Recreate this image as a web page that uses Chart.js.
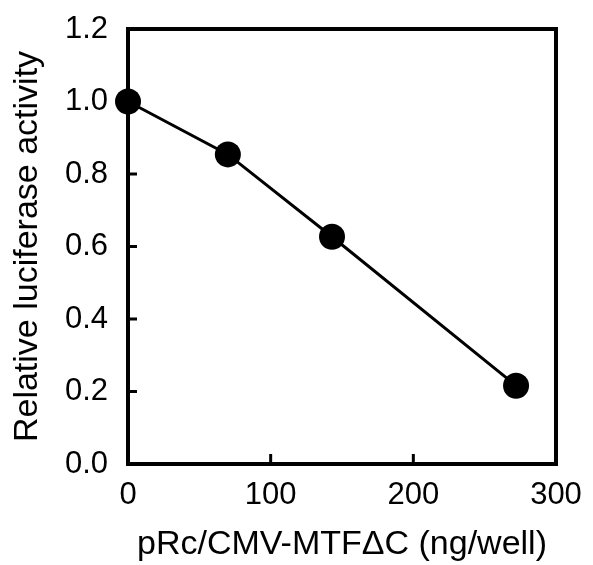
<!DOCTYPE html>
<html>
<head>
<meta charset="utf-8">
<script src="https://cdn.jsdelivr.net/npm/chart.js@4"></script>
<style>
  html, body { margin: 0; padding: 0; background: #fff; }
  #wrap { width: 593px; height: 565px; }
</style>
</head>
<body>
<div id="wrap"><canvas id="chart"></canvas></div>
<script>
// dose of pRc/CMV-MTFdC (ng/well) and relative luciferase activity
const doses = [0, 70, 143, 272];
const activity = [1.0, 0.854, 0.627, 0.216];

const xTicks = [0, 100, 200, 300];
const yTicks = [0, 0.2, 0.4, 0.6, 0.8, 1.0, 1.2];

const FONT = "'Liberation Sans', Arial, sans-serif";

// frame around the plot + short ticks pointing inwards
const framePlugin = {
  id: "frame",
  beforeDatasetsDraw(chart) {
    const { ctx, chartArea: a, scales } = chart;
    ctx.save();
    ctx.strokeStyle = "#000";
    ctx.lineWidth = 3;
    ctx.lineCap = "butt";
    xTicks.slice(1, -1).forEach(v => {
      const px = scales.x.getPixelForValue(v);
      ctx.beginPath();
      ctx.moveTo(px, a.bottom);
      ctx.lineTo(px, a.bottom - 10);
      ctx.stroke();
    });
    yTicks.slice(1, -1).forEach(v => {
      const py = scales.y.getPixelForValue(v);
      ctx.beginPath();
      ctx.moveTo(a.left, py);
      ctx.lineTo(a.left + 9, py);
      ctx.stroke();
    });
    ctx.lineWidth = 4;
    ctx.strokeRect(a.left, a.top, a.right - a.left, a.bottom - a.top);
    ctx.restore();
  }
};

new Chart(document.getElementById("chart"), {
  type: "scatter",
  data: {
    datasets: [{
      data: doses.map((d, i) => ({ x: d, y: activity[i] })),
      showLine: true,
      borderColor: "#000",
      borderWidth: 3,
      backgroundColor: "#000",
      pointRadius: 13,
      pointHoverRadius: 13,
      pointBorderWidth: 0,
      clip: false
    }]
  },
  options: {
    responsive: true,
    maintainAspectRatio: false,
    animation: false,
    events: [],
    layout: { padding: { left: 0, top: 29, right: 37, bottom: 0 } },
    plugins: { legend: { display: false }, tooltip: { enabled: false } },
    scales: {
      x: {
        type: "linear",
        min: 0,
        max: 300,
        afterFit: s => {
          s.height = 101;
          s.paddingLeft = 0;
          s.paddingRight = 0;
        },
        afterBuildTicks: s => { s.ticks = xTicks.map(v => ({ value: v })); },
        grid: { display: false, drawTicks: false },
        border: { display: false },
        ticks: {
          color: "#000",
          padding: 13,
          maxRotation: 0,
          font: { family: FONT, size: 31 }
        },
        title: {
          display: true,
          text: "pRc/CMV-MTF\u0394C (ng/well)",
          color: "#000",
          padding: { top: 0, bottom: 3 },
          font: { family: FONT, size: 34, lineHeight: 1 }
        }
      },
      y: {
        type: "linear",
        min: 0,
        max: 1.2,
        afterFit: s => {
          s.width = 128;
          s.paddingTop = 0;
          s.paddingBottom = 0;
        },
        afterBuildTicks: s => { s.ticks = yTicks.map(v => ({ value: v })); },
        grid: { display: false, drawTicks: false },
        border: { display: false },
        ticks: {
          color: "#000",
          padding: 20,
          font: { family: FONT, size: 31 },
          callback: v => v.toFixed(1)
        },
        title: {
          display: true,
          text: "Relative luciferase activity",
          color: "#000",
          padding: { top: 11, bottom: 0 },
          font: { family: FONT, size: 34, lineHeight: 1 }
        }
      }
    }
  },
  plugins: [framePlugin]
});
</script>
</body>
</html>
